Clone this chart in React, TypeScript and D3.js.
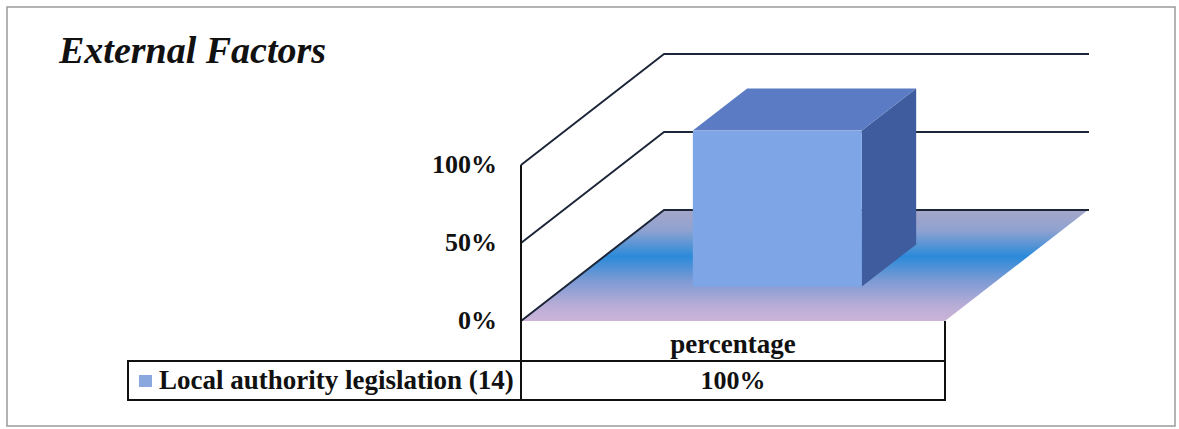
import React from 'react';
import * as d3 from 'd3';

// chart data
const categories = ['percentage'];
const seriesName = 'Local authority legislation (14)';
const values = [1.0];
const yTicks = [0, 0.5, 1];
const title = 'External Factors';

const W = 1179;
const H = 429;
const serif = '"Liberation Serif", "Times New Roman", serif';

// 3d depth of the plot box
const DX = 143;
const DY = -111;
const barDepth = [0.31, 0.69];

export default function App() {
  const x = d3.scaleBand<string>().domain(categories).range([521, 945]).padding(0.43);
  const y = d3.scaleLinear().domain([0, 1]).range([321, 165]);
  const fmt = d3.format('.0%');

  const x0 = 521;
  const x1 = 945;
  const y0 = y(0);

  const pts = (arr: [number, number][]) => arr.map(p => p.join(',')).join(' ');
  const wallLine = d3.line();

  return (
    <svg width={W} height={H} style={{ position: 'absolute', left: 0, top: 0, background: '#fff' }}>
      <defs>
        <linearGradient id="floorGrad" x1="0" y1="0" x2="0" y2="1">
          <stop offset="0" stopColor="#a4a6c8" />
          <stop offset="0.18" stopColor="#90a2d0" />
          <stop offset="0.42" stopColor="#2b8ad9" />
          <stop offset="0.62" stopColor="#7799d4" />
          <stop offset="0.85" stopColor="#b6acd6" />
          <stop offset="1" stopColor="#cdb4d8" />
        </linearGradient>
      </defs>

      {/* outer frame */}
      <rect x={7} y={7} width={1168} height={419} fill="none" stroke="#9b9b9b" strokeWidth={1.5} />

      {/* title */}
      <text x={59} y={63} fontFamily={serif} fontWeight="bold" fontStyle="italic" fontSize={38} fill="#111">
        {title}
      </text>

      {/* floor */}
      <polygon
        points={pts([[x0, y0], [x1, y0], [x1 + DX, y0 + DY], [x0 + DX, y0 + DY]])}
        fill="url(#floorGrad)"
      />
      <path
        d={wallLine([[x0, y0], [x0 + DX, y0 + DY], [x1 + DX + 1, y0 + DY]]) || ''}
        fill="none"
        stroke="#1c2638"
        strokeWidth={2}
      />

      {/* gridlines on side and back walls */}
      {yTicks.filter(t => t > 0).map(t => (
        <path
          key={t}
          d={wallLine([[x0, y(t)], [x0 + DX, y(t) + DY], [x1 + DX + 1, y(t) + DY]]) || ''}
          fill="none"
          stroke="#1c2638"
          strokeWidth={2}
          strokeLinejoin="round"
        />
      ))}

      {/* bars */}
      {categories.map((c, i) => {
        const bx0 = (x(c) || 0) + barDepth[0] * DX;
        const bx1 = bx0 + x.bandwidth();
        const by0 = y(0) + barDepth[0] * DY;
        const by1 = y(values[i]) + barDepth[0] * DY;
        const ddx = (barDepth[1] - barDepth[0]) * DX;
        const ddy = (barDepth[1] - barDepth[0]) * DY;
        return (
          <g key={c}>
            <polygon points={pts([[bx1, by1], [bx1 + ddx, by1 + ddy], [bx1 + ddx, by0 + ddy], [bx1, by0]])} fill="#3f5d9e" />
            <polygon points={pts([[bx0, by1], [bx0 + ddx, by1 + ddy], [bx1 + ddx, by1 + ddy], [bx1, by1]])} fill="#5b7bc4" />
            <rect x={bx0} y={by1} width={bx1 - bx0} height={by0 - by1} fill="#7ea6e6" />
          </g>
        );
      })}

      {/* front axis line */}
      <line x1={x0} x2={x0} y1={y(1)} y2={400} stroke="#111" strokeWidth={2} />

      {/* y tick labels */}
      {yTicks.map(t => (
        <text
          key={t}
          x={497}
          y={y(t) + 2}
          textAnchor="end"
          dominantBaseline="middle"
          fontFamily={serif}
          fontWeight="bold"
          fontSize={26}
          fill="#111"
        >
          {fmt(t)}
        </text>
      ))}

      {/* data table */}
      <line x1={x1} x2={x1} y1={y0} y2={400} stroke="#111" strokeWidth={2} />
      <rect x={128} y={361} width={x1 - 128} height={39} fill="none" stroke="#111" strokeWidth={2} />
      {categories.map(c => (
        <text
          key={c}
          x={(x(c) || 0) + x.bandwidth() / 2}
          y={353}
          textAnchor="middle"
          fontFamily={serif}
          fontWeight="bold"
          fontSize={27}
          fill="#111"
        >
          {c}
        </text>
      ))}
      <rect x={139} y={375} width={13} height={12} fill="#8aa8de" />
      <text x={159} y={389} fontFamily={serif} fontWeight="bold" fontSize={27} fill="#111">
        {seriesName}
      </text>
      {values.map((v, i) => (
        <text
          key={i}
          x={(x(categories[i]) || 0) + x.bandwidth() / 2}
          y={389}
          textAnchor="middle"
          fontFamily={serif}
          fontWeight="bold"
          fontSize={26}
          fill="#111"
        >
          {fmt(v)}
        </text>
      ))}
    </svg>
  );
}
